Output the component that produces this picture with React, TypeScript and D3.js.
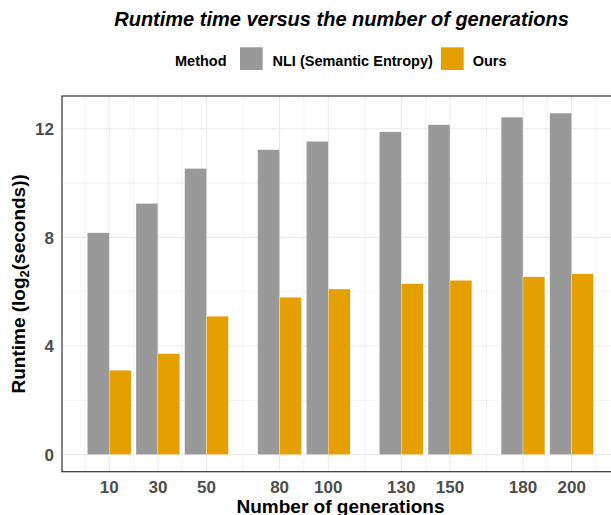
import React from "react";
import * as d3 from "d3";

const generations = [10, 30, 50, 80, 100, 130, 150, 180, 200];
const nliRuntime = [8.17, 9.25, 10.54, 11.23, 11.54, 11.89, 12.15, 12.43, 12.58];
const oursRuntime = [3.11, 3.72, 5.1, 5.8, 6.1, 6.29, 6.42, 6.55, 6.66];
const methods = ["NLI (Semantic Entropy)", "Ours"];
const methodColors = ["#999999", "#E69F00"];
const yTicks = [0, 4, 8, 12];
const yMinor = [2, 6, 10];

const W = 611;
const H = 515;
const dodge = 18; // width of a group in x units

export default function App() {
  const left = 62;
  const top = 96;
  const bottom = 471.7;
  const xDomain = [1 - 10.4, 209 + 10.4];
  const x = d3.scaleLinear().domain(xDomain).range([left, 618.9]);
  const yMax = d3.max(nliRuntime) as number;
  const y = d3
    .scaleLinear()
    .domain([-0.05 * yMax, yMax * 1.05])
    .range([bottom, top]);

  // ggplot-style minor breaks: midpoints, extended one step each side
  const ext = [
    generations[0] - (generations[1] - generations[0]),
    ...generations,
    generations[generations.length - 1] +
      (generations[generations.length - 1] - generations[generations.length - 2]),
  ];
  const xMinor = d3.range(ext.length - 1).map((i) => (ext[i] + ext[i + 1]) / 2);

  const series = [nliRuntime, oursRuntime];
  const barW = dodge / 2;
  const font = "'Liberation Sans', Arial, Helvetica, sans-serif";

  return (
    <svg
      width={W}
      height={H}
      style={{ position: "absolute", left: 0, top: 0 }}
      fontFamily={font}
    >
      <rect width={W} height={H} fill="#fff" />
      <text
        x={341.5}
        y={26}
        textAnchor="middle"
        fontSize={20}
        fontWeight="bold"
        fontStyle="italic"
        fill="#000"
      >
        Runtime time versus the number of generations
      </text>

      {/* legend */}
      <g fontSize={14.5} fontWeight="bold" fill="#000">
        <text x={175} y={65.5}>Method</text>
        <rect x={240} y={47.3} width={22.7} height={22.7} fill={methodColors[0]} />
        <text x={272.5} y={65.5}>{methods[0]}</text>
        <rect x={441} y={47.3} width={22.7} height={22.7} fill={methodColors[1]} />
        <text x={472.7} y={65.5}>{methods[1]}</text>
      </g>

      {/* grid */}
      <g>
        {yMinor.map((v) => (
          <line key={"ym" + v} x1={left} x2={W} y1={y(v)} y2={y(v)} stroke="#EBEBEB" strokeWidth={0.6} />
        ))}
        {xMinor.map((v) => (
          <line key={"xm" + v} x1={x(v)} x2={x(v)} y1={top} y2={bottom} stroke="#EBEBEB" strokeWidth={0.6} />
        ))}
        {yTicks.map((v) => (
          <line key={"yM" + v} x1={left} x2={W} y1={y(v)} y2={y(v)} stroke="#EBEBEB" strokeWidth={1.1} />
        ))}
        {generations.map((v) => (
          <line key={"xM" + v} x1={x(v)} x2={x(v)} y1={top} y2={bottom} stroke="#EBEBEB" strokeWidth={1.1} />
        ))}
      </g>

      {/* bars */}
      {series.map((vals, si) => (
        <g key={si} fill={methodColors[si]} stroke="#fff" strokeWidth={0.3}>
          {generations.map((g, i) => {
            const x0 = g - dodge / 2 + si * barW;
            return (
              <rect
                key={g}
                x={x(x0)}
                y={y(vals[i])}
                width={x(x0 + barW) - x(x0)}
                height={y(0) - y(vals[i])}
              />
            );
          })}
        </g>
      ))}

      {/* panel border */}
      <rect
        x={left}
        y={top}
        width={618.9 - left}
        height={bottom - top}
        fill="none"
        stroke="#333333"
        strokeWidth={1.2}
      />

      {/* axes labels */}
      <g fontSize={17} fontWeight="bold" fill="#4D4D4D">
        {yTicks.map((v) => (
          <text key={v} x={54} y={y(v) + 6.1} textAnchor="end">
            {v}
          </text>
        ))}
        {generations.map((v) => (
          <text key={v} x={x(v)} y={493.3} textAnchor="middle">
            {v}
          </text>
        ))}
      </g>
      <text x={340.5} y={512.5} textAnchor="middle" fontSize={19} fontWeight="bold" fill="#000">
        Number of generations
      </text>
      <text
        transform={`translate(25,${(top + bottom) / 2}) rotate(-90)`}
        textAnchor="middle"
        fontSize={19}
        fontWeight="bold"
        fill="#000"
      >
        Runtime (log
        <tspan fontSize={13} dy={4}>2</tspan>
        <tspan dy={-4}>(seconds))</tspan>
      </text>
    </svg>
  );
}
